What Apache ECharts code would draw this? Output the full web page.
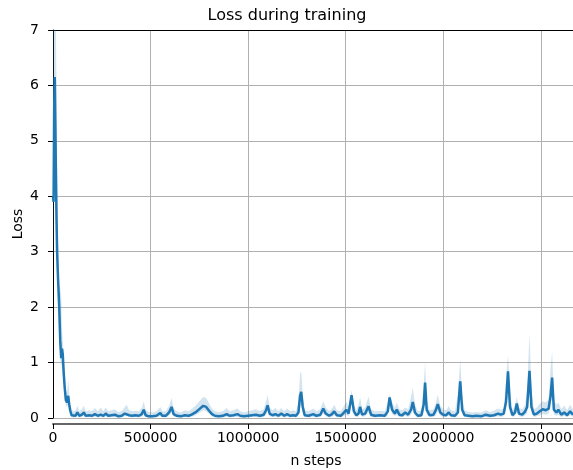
<!DOCTYPE html>
<html>
<head>
<meta charset="utf-8">
<script src="https://cdn.jsdelivr.net/npm/echarts@6/dist/echarts.min.js"></script>
<style>html,body{margin:0;padding:0;background:#fff}#c{width:573px;height:470px}</style>
</head>
<body>
<div id="c"></div>
<script>
const titleText = "Loss during training";
const xName = "n steps";
const yName = "Loss";
const yTicks = [0, 1, 2, 3, 4, 5, 6, 7];
const xTicks = [0, 500000, 1000000, 1500000, 2000000, 2500000];

const steps = [0,3000,6000,9000,12000,15000,18000,21000,26000,32000,37000,42000,46000,50000,55000,60000,66000,72000,78000,83000,88000,95000,103000,
115000,125000,135000,148000,158000,168000,185000,200000,215000,230000,245000,258000,270000,283000,300000,318000,335000,352000,368000,378000,390000,405000,422000,440000,455000,465000,475000,490000,510000,530000,550000,560000,578000,595000,608000,618000,635000,655000,675000,695000,710000,730000,750000,770000,785000,800000,815000,830000,850000,870000,890000,905000,925000,945000,960000,980000,1000000,1020000,1040000,1060000,1080000,1092000,1100000,1110000,1125000,1140000,1155000,1170000,1185000,1200000,1215000,1230000,1245000,1258000,1266000,1272000,1280000,1290000,1310000,1334000,1350000,1370000,1385000,1398000,1415000,1430000,1441000,1455000,1475000,1492000,1503000,1515000,1530000,1542000,1555000,1566000,1574000,1584000,1600000,1617000,1630000,1650000,1677000,1700000,1716000,1725000,1738000,1752000,1762000,1775000,1790000,1805000,1820000,1835000,1844000,1855000,1870000,1888000,1900000,1907000,1915000,1930000,1950000,1963000,1972000,1985000,2000000,2015000,2027000,2040000,2060000,2075000,2087000,2097000,2110000,2130000,2150000,2170000,2195000,2218000,2240000,2260000,2281000,2295000,2310000,2322000,2332000,2342000,2355000,2368000,2377000,2388000,2405000,2420000,2430000,2442000,2452000,2465000,2480000,2495000,2510000,2525000,2540000,2550000,2558000,2567000,2580000,2590000,2605000,2620000,2635000,2650000,2665000];

const lossMean = [4.0,3.9,5.6,6.15,5.3,4.4,3.6,3.0,2.5,2.0,1.4,1.08,1.25,1.15,0.8,0.55,0.32,0.28,0.4,0.25,0.14,0.05,0.03,
0.04,0.1,0.04,0.06,0.1,0.04,0.05,0.04,0.07,0.04,0.06,0.04,0.08,0.04,0.05,0.06,0.03,0.04,0.08,0.1,0.05,0.04,0.05,0.04,0.07,0.15,0.05,0.03,0.03,0.04,0.09,0.04,0.04,0.1,0.2,0.07,0.04,0.03,0.05,0.04,0.06,0.1,0.16,0.22,0.2,0.13,0.07,0.04,0.03,0.04,0.07,0.04,0.05,0.07,0.04,0.03,0.04,0.05,0.06,0.04,0.06,0.14,0.23,0.08,0.05,0.07,0.04,0.08,0.04,0.07,0.04,0.05,0.04,0.1,0.4,0.47,0.2,0.05,0.04,0.07,0.04,0.06,0.17,0.08,0.04,0.07,0.12,0.05,0.04,0.1,0.15,0.08,0.41,0.12,0.05,0.08,0.2,0.06,0.08,0.21,0.06,0.04,0.05,0.04,0.12,0.37,0.15,0.08,0.15,0.06,0.05,0.1,0.06,0.15,0.29,0.1,0.04,0.05,0.25,0.64,0.15,0.05,0.06,0.15,0.25,0.1,0.06,0.05,0.1,0.05,0.04,0.1,0.66,0.15,0.05,0.04,0.03,0.04,0.03,0.06,0.04,0.05,0.08,0.06,0.08,0.3,0.84,0.2,0.05,0.1,0.26,0.08,0.06,0.12,0.2,0.85,0.2,0.06,0.08,0.12,0.16,0.14,0.17,0.4,0.73,0.15,0.1,0.15,0.06,0.1,0.05,0.12,0.06];

const lossLow = [3.0,2.9,4.2,4.8,4.0,3.6,3.0,2.5,2.0,1.5,1.1,0.9,1.0,0.9,0.55,0.4,0.22,0.2,0.25,0.15,0.08,0.02,0.01,
0.01,0.04,0.01,0.02,0.04,0.01,0.02,0.01,0.02,0.01,0.02,0.01,0.03,0.01,0.02,0.02,0.01,0.01,0.03,0.04,0.02,0.01,0.02,0.01,0.02,0.06,0.02,0.01,0.01,0.01,0.03,0.01,0.01,0.04,0.1,0.03,0.01,0.01,0.02,0.01,0.02,0.05,0.09,0.14,0.12,0.07,0.03,0.01,0.01,0.01,0.02,0.01,0.02,0.02,0.01,0.01,0.01,0.02,0.02,0.01,0.02,0.06,0.12,0.03,0.02,0.02,0.01,0.03,0.01,0.02,0.01,0.02,0.01,0.04,0.2,0.25,0.08,0.02,0.01,0.02,0.01,0.02,0.08,0.03,0.01,0.02,0.05,0.02,0.01,0.04,0.06,0.03,0.25,0.05,0.02,0.03,0.1,0.02,0.03,0.1,0.02,0.01,0.02,0.01,0.05,0.22,0.07,0.03,0.06,0.02,0.02,0.04,0.02,0.06,0.14,0.04,0.01,0.02,0.1,0.35,0.06,0.02,0.02,0.06,0.12,0.04,0.02,0.02,0.04,0.02,0.01,0.04,0.4,0.06,0.02,0.01,0.01,0.01,0.01,0.02,0.01,0.02,0.03,0.02,0.03,0.15,0.5,0.08,0.02,0.04,0.12,0.03,0.02,0.05,0.09,0.45,0.08,0.02,0.03,0.05,0.07,0.06,0.08,0.2,0.4,0.06,0.04,0.06,0.02,0.04,0.02,0.05,0.02];

const lossHigh = [7.5,7.5,7.5,7.5,7.5,7.5,6.0,4.6,3.2,2.4,2.35,2.2,1.6,1.4,1.1,0.8,0.5,0.45,0.7,0.45,0.25,0.16,0.12,
0.13,0.22,0.12,0.16,0.22,0.12,0.14,0.12,0.18,0.12,0.19,0.12,0.19,0.12,0.14,0.16,0.11,0.12,0.2,0.24,0.14,0.12,0.13,0.12,0.18,0.3,0.14,0.11,0.1,0.12,0.2,0.12,0.12,0.22,0.36,0.17,0.12,0.1,0.14,0.12,0.16,0.22,0.3,0.38,0.36,0.26,0.17,0.12,0.11,0.12,0.18,0.12,0.14,0.17,0.12,0.1,0.12,0.14,0.16,0.12,0.16,0.3,0.42,0.19,0.14,0.18,0.12,0.18,0.12,0.17,0.12,0.14,0.12,0.28,0.8,0.84,0.42,0.14,0.12,0.17,0.12,0.16,0.3,0.19,0.12,0.17,0.24,0.14,0.12,0.22,0.3,0.19,0.5,0.24,0.14,0.24,0.38,0.16,0.19,0.39,0.16,0.12,0.13,0.12,0.28,0.43,0.28,0.19,0.28,0.16,0.14,0.19,0.16,0.38,0.55,0.24,0.12,0.14,0.6,1.02,0.33,0.14,0.16,0.28,0.42,0.22,0.16,0.14,0.21,0.14,0.12,0.42,1.06,0.38,0.14,0.11,0.1,0.11,0.1,0.14,0.11,0.13,0.17,0.15,0.17,0.7,1.14,0.48,0.14,0.24,0.38,0.18,0.16,0.24,0.52,1.52,0.52,0.16,0.19,0.26,0.3,0.28,0.33,0.9,1.2,0.33,0.24,0.28,0.16,0.22,0.14,0.24,0.16];

const meanData = steps.map((s, i) => [s, lossMean[i]]);

const blue = '#1f77b4';
const font = 'DejaVu Sans';
const chart = echarts.init(document.getElementById('c'), null, {renderer: 'canvas'});

function renderBand(params, api) {
  const pts = [];
  for (let i = 0; i < steps.length; i++) pts.push(api.coord([steps[i], Math.min(lossHigh[i], 7)]));
  for (let i = steps.length - 1; i >= 0; i--) pts.push(api.coord([steps[i], lossLow[i]]));
  return {
    type: 'polygon',
    shape: {points: pts},
    style: {fill: 'rgba(31,119,180,0.2)', stroke: null}
  };
}

chart.setOption({
  animation: false,
  backgroundColor: '#fff',
  title: {
    text: titleText, left: 282, top: 3, textAlign: 'center',
    textStyle: {fontFamily: font, fontSize: 16, fontWeight: 'normal', color: '#000'}
  },
  grid: {left: 53, right: 0, top: 30, bottom: 52, containLabel: false, outerBoundsMode: 'none'},
  xAxis: [{
    type: 'value', min: 0, max: 2665000, interval: 500000, offset: 6,
    name: xName, nameLocation: 'middle', nameGap: 30, nameMoveOverlap: false,
    nameTextStyle: {fontFamily: font, fontSize: 14, color: '#000', padding: [0, 0, 0, 6]},
    axisLine: {show: true, onZero: false, lineStyle: {color: '#666', width: 2}},
    axisTick: {show: true, length: 5, lineStyle: {color: '#000'}},
    axisLabel: {fontFamily: font, fontSize: 14, color: '#000', margin: 7, formatter: v => String(v)},
    splitLine: {show: true, lineStyle: {color: '#b0b0b0', width: 1}}
  }, {
    type: 'value', position: 'top', min: 0, max: 2665000,
    axisLine: {show: true, onZero: false, lineStyle: {color: '#000', width: 1}},
    axisTick: {show: false}, axisLabel: {show: false}, splitLine: {show: false}
  }],
  yAxis: {
    type: 'value', min: 0, max: 7, interval: 1,
    name: yName, nameLocation: 'middle', nameGap: 28, nameRotate: 90, nameMoveOverlap: false,
    nameTextStyle: {fontFamily: font, fontSize: 14, color: '#000'},
    axisLine: {show: true, onZero: false, lineStyle: {color: '#000', width: 1}},
    axisTick: {show: true, length: 5, lineStyle: {color: '#000'}},
    axisLabel: {fontFamily: font, fontSize: 14, color: '#000', margin: 14},
    splitLine: {show: true, lineStyle: {color: '#b0b0b0', width: 1}}
  },
  series: [
    {type: 'custom', data: [0], renderItem: renderBand, clip: true, silent: true, z: 2},
    {type: 'line', data: meanData, symbol: 'none', clip: true, z: 3,
     lineStyle: {color: blue, width: 2.5}, itemStyle: {color: blue}}
  ]
});
</script>
</body>
</html>
